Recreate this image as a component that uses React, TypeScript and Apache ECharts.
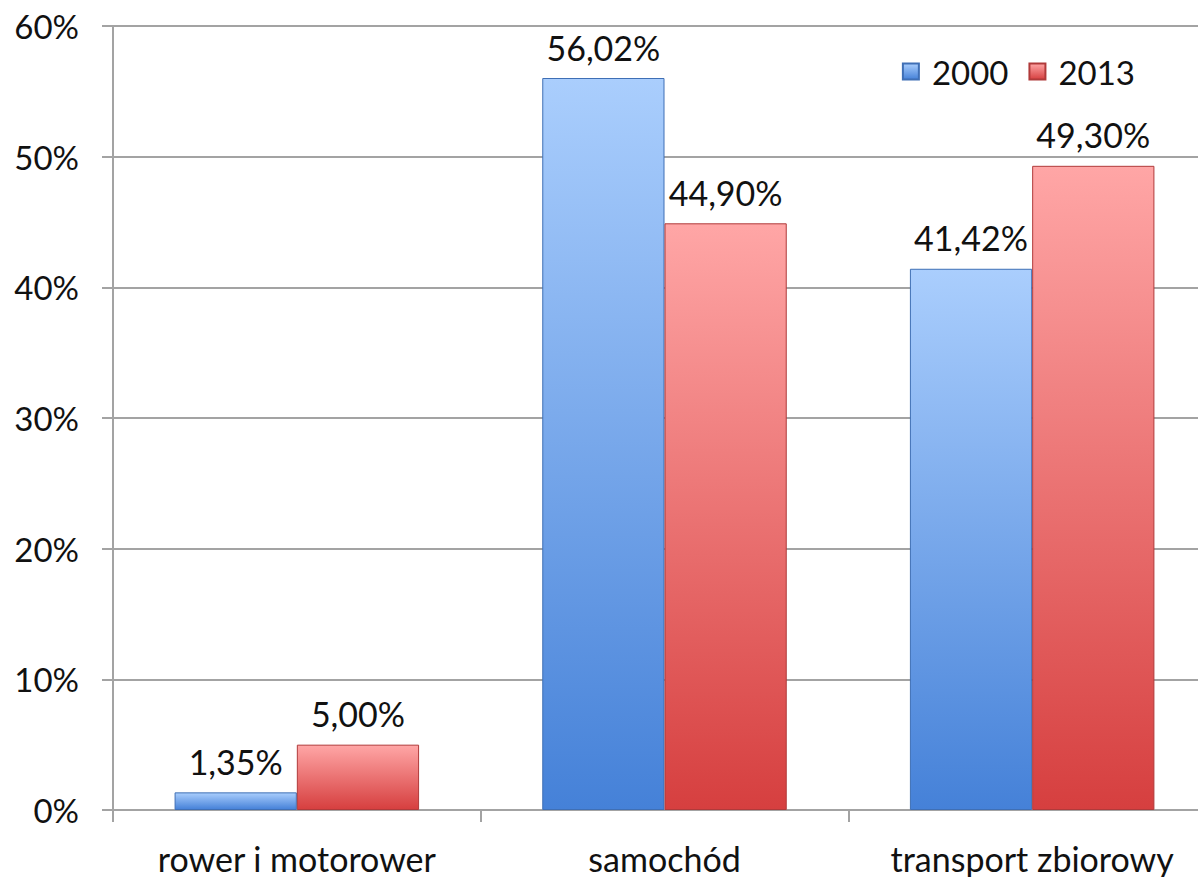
import React, { useEffect, useRef } from "react";
import * as echarts from "echarts";

const categories = ["rower i motorower", "samochód", "transport zbiorowy"];
const series2000 = [1.35, 56.02, 41.42];
const series2013 = [5.0, 44.9, 49.3];
const seriesNames = ["2000", "2013"];
const yTicks = [0, 10, 20, 30, 40, 50, 60];

const FONT = "Lato, 'Open Sans', sans-serif";
const FS = 33;

const fmt = (v: number) => v.toFixed(2).replace(".", ",") + "%";

export default function App() {
  const ref = useRef<HTMLDivElement>(null);
  useEffect(() => {
    if (!ref.current) return;
    const chart = echarts.init(ref.current, undefined, { renderer: "svg" });
    const blue = new echarts.graphic.LinearGradient(0, 0, 0, 1, [
      { offset: 0, color: "#aacefd" },
      { offset: 1, color: "#4581d8" },
    ]);
    const red = new echarts.graphic.LinearGradient(0, 0, 0, 1, [
      { offset: 0, color: "#ffa6a6" },
      { offset: 1, color: "#d63f3f" },
    ]);
    const label = {
      show: true,
      position: "top" as const,
      distance: 14,
      fontFamily: FONT,
      fontSize: 34,
      color: "#111",
      formatter: (p: any) => fmt(p.value),
    };
    chart.setOption({
      animation: false,
      backgroundColor: "#fff",
      grid: { left: 113, top: 26, bottom: 67, right: 0, containLabel: false },
      legend: {
        data: seriesNames,
        right: 76,
        top: 50,
        itemWidth: 16,
        itemHeight: 16,
        itemGap: 20,
        icon: "rect",
        textStyle: { fontFamily: FONT, fontSize: FS, color: "#111", padding: [0, 0, 0, 8] },
      },
      xAxis: {
        type: "category",
        data: categories,
        axisLine: { lineStyle: { color: "#a3a3a3", width: 2 } },
        axisTick: { show: true, interval: 0, length: 12, lineStyle: { color: "#a3a3a3", width: 2 } },
        axisLabel: { interval: 0, hideOverlap: false, fontFamily: FONT, fontSize: 34, color: "#111", margin: 31 },
      },
      yAxis: {
        type: "value",
        min: yTicks[0],
        max: yTicks[yTicks.length - 1],
        interval: 10,
        axisLine: { show: true, lineStyle: { color: "#a3a3a3", width: 2 } },
        axisTick: { show: true, length: 11, lineStyle: { color: "#a3a3a3", width: 2 } },
        splitLine: { lineStyle: { color: "#a3a3a3", width: 2 } },
        axisLabel: {
          fontFamily: FONT,
          fontSize: FS,
          color: "#111",
          margin: 34,
          formatter: (v: number) => v + "%",
        },
      },
      series: [
        {
          name: seriesNames[0],
          type: "bar",
          data: series2000,
          barGap: "0%",
          barCategoryGap: "33.5%",
          itemStyle: { color: blue, borderColor: "#3f6fb5", borderWidth: 1 },
          label,
        },
        {
          name: seriesNames[1],
          type: "bar",
          data: series2013,
          barGap: "0%",
          barCategoryGap: "33.5%",
          itemStyle: { color: red, borderColor: "#b03a3a", borderWidth: 1 },
          label,
        },
      ],
    });
    return () => chart.dispose();
  }, []);
  return (
    <div
      ref={ref}
      style={{ position: "fixed", left: 0, top: 0, width: 1216, height: 877 }}
    />
  );
}
